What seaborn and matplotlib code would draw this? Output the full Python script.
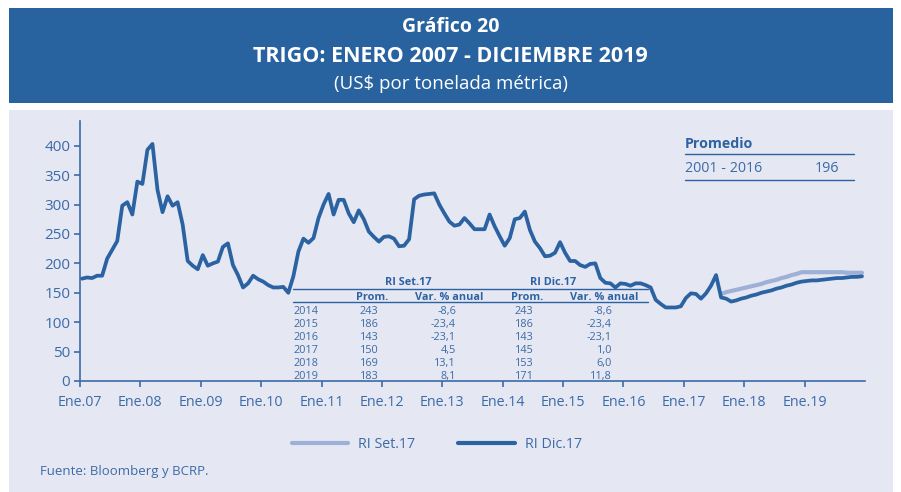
import numpy as np
import pandas as pd
import matplotlib
matplotlib.use('Agg')
import matplotlib.pyplot as plt
from matplotlib.patches import Rectangle
from matplotlib.lines import Line2D
import seaborn as sns

# ---------------- data ----------------
meses = pd.date_range('2007-01-01', '2019-12-01', freq='MS')

ri_dic17 = [
    174, 176, 175, 179, 179, 208, 223, 238, 298, 304, 283, 339,   # 2007
    335, 393, 403, 325, 287, 314, 298, 304, 266, 204, 196, 190,   # 2008
    214, 196, 200, 203, 228, 234, 197, 180, 159, 166, 179, 173,   # 2009
    169, 163, 159, 159, 160, 150, 178, 220, 242, 235, 243, 277,   # 2010
    300, 318, 283, 308, 308, 285, 270, 290, 275, 254, 245, 237,   # 2011
    245, 246, 242, 229, 230, 241, 309, 315, 317, 318, 319, 300,   # 2012
    285, 271, 264, 266, 277, 268, 258, 258, 258, 283, 263, 246,   # 2013
    230, 243, 275, 277, 288, 257, 237, 226, 212, 213, 218, 236,   # 2014
    218, 204, 204, 197, 194, 199, 200, 175, 167, 166, 159, 166,   # 2015
    165, 162, 166, 166, 163, 159, 138, 131, 125, 125, 125, 127,   # 2016
    141, 149, 148, 140, 149, 162, 180, 142, 140, 135, 137, 140,   # 2017
    142, 145, 147, 150, 152, 154, 157, 159, 162, 164, 167, 169,   # 2018
    170, 171, 171, 172, 173, 174, 175, 175, 176, 177, 177, 178,   # 2019
]

set_inicio = '2017-08-01'
ri_set17 = [
    148, 151, 153, 155, 157,                                       # 2017 (ago-dic)
    159, 161, 163, 165, 168, 170, 172, 175, 177, 180, 182, 185,   # 2018
    185, 185, 185, 185, 185, 185, 185, 185, 184, 184, 184, 184,   # 2019
]

tick_labels = ['Ene.07', 'Ene.08', 'Ene.09', 'Ene.10', 'Ene.11', 'Ene.12', 'Ene.13',
               'Ene.14', 'Ene.15', 'Ene.16', 'Ene.17', 'Ene.18', 'Ene.19']
y_ticks = [0, 50, 100, 150, 200, 250, 300, 350, 400]

tabla_anios = ['2014', '2015', '2016', '2017', '2018', '2019']
set_prom = ['243', '186', '143', '150', '169', '183']
set_var = ['-8,6', '-23,4', '-23,1', '4,5', '13,1', '8,1']
dic_prom = ['243', '186', '143', '145', '153', '171']
dic_var = ['-8,6', '-23,4', '-23,1', '1,0', '6,0', '11,8']

promedio_periodo = '2001 - 2016'
promedio_valor = '196'

# ---------------- style ----------------
sns.set_theme(style='white')
plt.rcParams['font.family'] = ['Open Sans', 'DejaVu Sans']

HEADER = '#2863a0'
PANEL = '#e5e7f2'
DARK = '#2b62a1'
LIGHT = '#9fb0d6'
TXT = '#3b6ba8'
TXTB = '#2d63a2'

W, H = 901, 492
fig = plt.figure(figsize=(W / 100, H / 100), dpi=100)
fig.patch.set_facecolor('white')


def fx(x):
    return x / W


def fy(y):
    return 1 - y / H


fig.patches.append(Rectangle((fx(9), fy(103)), (893 - 9) / W, (103 - 8) / H,
                             transform=fig.transFigure, facecolor=HEADER, edgecolor='none', zorder=-5))
fig.patches.append(Rectangle((fx(9), 0), (893 - 9) / W, fy(110),
                             transform=fig.transFigure, facecolor=PANEL, edgecolor='none', zorder=-5))

fig.text(0.5, fy(27), 'Gráfico 20', color='white', fontsize=14, fontweight='bold',
         ha='center', va='center')
fig.text(0.5, fy(56), 'TRIGO: ENERO 2007 - DICIEMBRE 2019', color='white', fontsize=15.5,
         fontweight='bold', ha='center', va='center')
fig.text(0.5, fy(84), '(US$ por tonelada métrica)', color='white', fontsize=13.5,
         ha='center', va='center')

ax = fig.add_axes([fx(80), fy(381), (865 - 80) / W, (381 - 121) / H])
ax.set_facecolor('none')
ax.set_zorder(1)

df_dic = pd.DataFrame({'t': np.arange(len(meses)), 'valor': ri_dic17})
i0 = meses.get_loc(pd.Timestamp(set_inicio))
df_set = pd.DataFrame({'t': np.arange(i0, i0 + len(ri_set17)), 'valor': ri_set17})

sns.lineplot(data=df_set, x='t', y='valor', ax=ax, color=LIGHT, linewidth=3.0, zorder=2)
sns.lineplot(data=df_dic, x='t', y='valor', ax=ax, color=DARK, linewidth=2.7, zorder=3)

ax.set_xlim(-0.34, 155.6)
ax.set_ylim(0, 442)
ax.set_xticks([12 * k - 0.4 for k in range(len(tick_labels))])
ax.set_xticklabels(tick_labels)
ax.set_yticks(y_ticks)
ax.set_xlabel('')
ax.set_ylabel('')
for s in ['top', 'right']:
    ax.spines[s].set_visible(False)
for s in ['left', 'bottom']:
    ax.spines[s].set_color(TXT)
    ax.spines[s].set_linewidth(1.2)
ax.tick_params(axis='both', colors=TXT, labelcolor=TXT, length=4,
               width=1.2, direction='out')
ax.tick_params(axis='x', pad=6, labelsize=10.3)
ax.tick_params(axis='y', pad=3, labelsize=11)
ax.tick_params(bottom=True, left=True)

# ---------------- table ----------------
fs_t = 7.8
VA = 'center_baseline'
fig.text(fx(408), fy(281), 'RI Set.17', color=TXTB, fontsize=fs_t, fontweight='bold', ha='center', va=VA)
fig.text(fx(553), fy(281), 'RI Dic.17', color=TXTB, fontsize=fs_t, fontweight='bold', ha='center', va=VA)
fig.lines.append(Line2D([fx(293), fx(648)], [fy(289.3), fy(289.3)], transform=fig.transFigure, color=DARK, lw=1.0))
fig.lines.append(Line2D([fx(293), fx(648)], [fy(301.7), fy(301.7)], transform=fig.transFigure, color=DARK, lw=1.0))
for xc, lab in [(372.5, 'Prom.'), (449.5, 'Var. % anual'), (527, 'Prom.'), (604.5, 'Var. % anual')]:
    fig.text(fx(xc), fy(295.5), lab, color=TXTB, fontsize=fs_t, fontweight='bold', ha='center', va=VA)
for k in range(len(tabla_anios)):
    yy = fy(310 + 13 * k)
    fig.text(fx(294), yy, tabla_anios[k], color=TXT, fontsize=fs_t, ha='left', va=VA)
    fig.text(fx(378.5), yy, set_prom[k], color=TXT, fontsize=fs_t, ha='right', va=VA)
    fig.text(fx(456), yy, set_var[k], color=TXT, fontsize=fs_t, ha='right', va=VA)
    fig.text(fx(533.5), yy, dic_prom[k], color=TXT, fontsize=fs_t, ha='right', va=VA)
    fig.text(fx(612), yy, dic_var[k], color=TXT, fontsize=fs_t, ha='right', va=VA)

# ---------------- promedio box ----------------
fig.text(fx(685), fy(143), 'Promedio', color=TXTB, fontsize=10.3, fontweight='bold', ha='left', va=VA)
fig.lines.append(Line2D([fx(685), fx(854)], [fy(154), fy(154)], transform=fig.transFigure, color=DARK, lw=1.0))
fig.text(fx(685), fy(166.5), promedio_periodo, color=TXT, fontsize=10.3, ha='left', va=VA)
fig.text(fx(839), fy(166.5), promedio_valor, color=TXT, fontsize=10.3, ha='right', va=VA)
fig.lines.append(Line2D([fx(685), fx(854)], [fy(180), fy(180)], transform=fig.transFigure, color=DARK, lw=1.0))

# ---------------- legend ----------------
fig.lines.append(Line2D([fx(292), fx(348)], [fy(442.5), fy(442.5)], transform=fig.transFigure, color=LIGHT, lw=3.0))
fig.text(fx(358), fy(442), 'RI Set.17', color=TXT, fontsize=10.3, ha='left', va=VA)
fig.lines.append(Line2D([fx(458), fx(515)], [fy(442.5), fy(442.5)], transform=fig.transFigure, color=DARK, lw=3.0))
fig.text(fx(525), fy(442), 'RI Dic.17', color=TXT, fontsize=10.3, ha='left', va=VA)

fig.text(fx(40), fy(470), 'Fuente: Bloomberg y BCRP.', color=TXT, fontsize=9.5, ha='left', va=VA)

fig.savefig('out.png', dpi=100, facecolor='white')
